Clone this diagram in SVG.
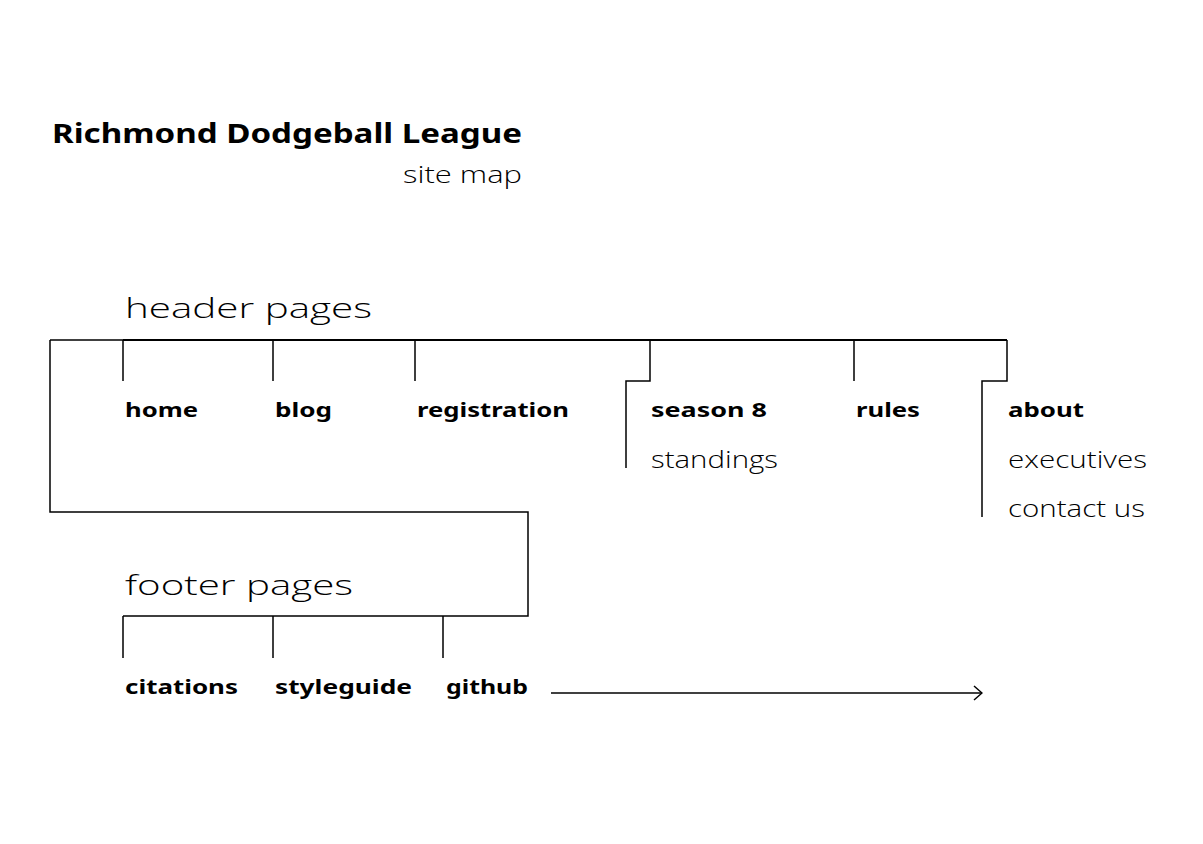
<svg xmlns="http://www.w3.org/2000/svg" width="1203" height="844" viewBox="0 0 1203 844">
<defs>
<style>
.b{font-family:"Noto Sans","DejaVu Sans",sans-serif;font-weight:700;font-size:19px;fill:#000;}
.l{font-family:"Open Sans","Noto Sans",sans-serif;font-weight:300;fill:#000;}
.ln{stroke:#000;stroke-width:1.5;fill:none;}
.thk{stroke:#000;stroke-width:2;fill:none;}
</style>
<marker id="ah" viewBox="0 0 10 16" refX="9" refY="8" markerWidth="10" markerHeight="16" markerUnits="userSpaceOnUse" orient="auto">
<path d="M1,1 L9,8 L1,15" fill="none" stroke="#000" stroke-width="1.5"/>
</marker>
</defs>
<rect width="1203" height="844" fill="#fff"/>
<g id="title">
<text x="52" y="143" class="b" style="font-size:27px" textLength="470" lengthAdjust="spacingAndGlyphs">Richmond Dodgeball League</text>
<text x="403" y="183" class="l" style="font-size:23px" textLength="119" lengthAdjust="spacingAndGlyphs">site map</text>
</g>
<g id="connectors">
<path class="ln" d="M50,340 H123"/>
<path class="thk" d="M123,340 H1007"/>
<path class="ln" d="M50,340 V512 H528 V616 H123"/>
<path class="ln" d="M123,340 V381 M273,340 V381 M415,340 V381 M854,340 V381"/>
<path class="ln" d="M650,340 V381 H626 V468"/>
<path class="ln" d="M1007,340 V381 H982 V517"/>
<path class="ln" d="M123,616 V658 M273,616 V658 M443,616 V658"/>
<path class="ln" d="M551,693 H982" marker-end="url(#ah)"/>
</g>
<g id="header-pages">
<text x="125" y="318" class="l" style="font-size:28px" textLength="247" lengthAdjust="spacingAndGlyphs">header pages</text>
</g>
<g id="home"><text x="125" y="417" class="b" textLength="73" lengthAdjust="spacingAndGlyphs">home</text></g>
<g id="blog"><text x="275" y="417" class="b" textLength="57" lengthAdjust="spacingAndGlyphs">blog</text></g>
<g id="registration"><text x="417" y="417" class="b" textLength="152" lengthAdjust="spacingAndGlyphs">registration</text></g>
<g id="season8">
<text x="651" y="417" class="b" textLength="116" lengthAdjust="spacingAndGlyphs">season 8</text>
<text x="651" y="468" class="l" style="font-size:23px" textLength="127" lengthAdjust="spacingAndGlyphs">standings</text>
</g>
<g id="rules"><text x="856" y="417" class="b" textLength="64" lengthAdjust="spacingAndGlyphs">rules</text></g>
<g id="about">
<text x="1008" y="417" class="b" textLength="76" lengthAdjust="spacingAndGlyphs">about</text>
<text x="1008" y="468" class="l" style="font-size:23px" textLength="139" lengthAdjust="spacingAndGlyphs">executives</text>
<text x="1008" y="517" class="l" style="font-size:23px" textLength="137" lengthAdjust="spacingAndGlyphs">contact us</text>
</g>
<g id="footer-pages">
<text x="125" y="595" class="l" style="font-size:28px" textLength="228" lengthAdjust="spacingAndGlyphs">footer pages</text>
</g>
<g id="citations"><text x="125" y="694" class="b" textLength="113" lengthAdjust="spacingAndGlyphs">citations</text></g>
<g id="styleguide"><text x="275" y="694" class="b" textLength="137" lengthAdjust="spacingAndGlyphs">styleguide</text></g>
<g id="github"><text x="446" y="694" class="b" textLength="82" lengthAdjust="spacingAndGlyphs">github</text></g>
</svg>
